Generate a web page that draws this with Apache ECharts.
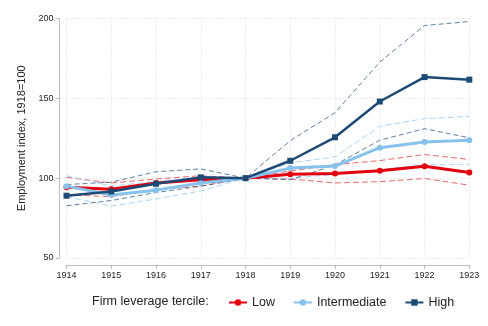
<!DOCTYPE html>
<html>
<head>
<meta charset="utf-8">
<script src="https://cdn.jsdelivr.net/npm/echarts@6/dist/echarts.min.js"></script>
<style>
  html, body { margin: 0; padding: 0; background: #fff; }
  #main { width: 488px; height: 326px; }
</style>
</head>
<body>
<div id="main"></div>
<script>
// years on the x axis
var years = ['1914','1915','1916','1917','1918','1919','1920','1921','1922','1923'];

// point estimates per leverage tercile
var low  = [94.3, 93, 97, 99, 100, 102.5, 102.9, 104.6, 107.4, 103.5];
var mid  = [95, 89.5, 92.5, 97, 100, 106.3, 107.6, 119.1, 122.7, 123.7];
var high = [89, 91.7, 96.5, 100.5, 100, 110.9, 125.6, 148, 163.3, 161.7];

// confidence bands (dashed)
var lowUp   = [100.5, 97, 99.5, 101.5, 100, 104.5, 108.5, 111, 114.8, 111.7];
var lowDn   = [89.5, 88.5, 93, 95, 100, 99.5, 97, 97.8, 99.8, 95.6];
var midUp   = [101.5, 95, 98, 101, 100, 109.6, 113.3, 132.5, 137.3, 138.7];
var midDn   = [88.5, 82.5, 87, 92, 100, 100, 102.3, 105.4, 108.5, 108.5];
var highUp  = [96, 97.5, 104, 105.8, 100, 123.5, 141, 172.7, 195.6, 198.1];
var highDn  = [82.7, 86, 91, 95, 100, 99, 108.3, 123.8, 131, 125.3];

var cRed = '#e3000f', cLight = '#87c2ec', cDark = '#1c4a75';

function band(name, data, color, dash) {
    return {
        name: name, type: 'line', data: data,
        symbol: 'none', silent: true,
        lineStyle: { color: color, width: 1, type: dash },
        z: 1
    };
}
function main(name, data, color, sym, w) {
    return {
        name: name, type: 'line', data: data,
        symbol: sym, symbolSize: 6,
        itemStyle: { color: color },
        lineStyle: { color: color, width: w },
        z: 3
    };
}

var myChart = echarts.init(document.getElementById('main'));
var option = {
    animation: false,
    textStyle: { fontFamily: 'Liberation Sans, Arial, sans-serif' },
    grid: { left: 66.5, right: 18.7, top: 18.5, bottom: 68 },
    xAxis: {
        type: 'category', data: years, boundaryGap: false, offset: 7,
        axisLine: { lineStyle: { color: '#bbb' } },
        axisTick: { lineStyle: { color: '#bbb' }, length: 4, alignWithLabel: true },
        axisLabel: { color: '#222', fontSize: 9, margin: 6 },
        splitLine: { show: true, lineStyle: { color: '#ddd', type: [1, 2] } }
    },
    yAxis: {
        type: 'value', min: 50, max: 200, interval: 50, offset: 7,
        name: 'Employment index, 1918=100', nameLocation: 'middle', nameGap: 32,
        nameTextStyle: { color: '#222', fontSize: 11 },
        axisLine: { show: true, lineStyle: { color: '#bbb' } },
        axisTick: { show: true, lineStyle: { color: '#bbb' }, length: 4 },
        axisLabel: { color: '#222', fontSize: 9, margin: 6 },
        splitLine: { show: true, lineStyle: { color: '#ddd', type: [1, 2] } }
    },
    legend: {
        data: ['Low', 'Intermediate', 'High'],
        left: 223, top: 291,
        itemWidth: 18, itemHeight: 8, itemGap: 18,
        textStyle: { color: '#222', fontSize: 12.5 }
    },
    graphic: [{
        type: 'text', left: 92, top: 295,
        style: { text: 'Firm leverage tercile:', fill: '#222', fontSize: 12.5,
                 fontFamily: 'Liberation Sans, Arial, sans-serif' }
    }],
    series: [
        band('lowUp', lowUp, 'rgba(227,0,15,0.6)', [6, 3]),
        band('lowDn', lowDn, 'rgba(227,0,15,0.6)', [6, 3]),
        band('midUp', midUp, '#a9d5f5', [6, 3]),
        band('midDn', midDn, '#a9d5f5', [6, 3]),
        band('highUp', highUp, 'rgba(28,74,117,0.7)', [5, 3]),
        band('highDn', highDn, 'rgba(28,74,117,0.7)', [5, 3]),
        main('Low', low, cRed, 'circle', 3),
        main('Intermediate', mid, cLight, 'circle', 3),
        main('High', high, cDark, 'rect', 2.5)
    ]
};
myChart.setOption(option);
</script>
</body>
</html>
